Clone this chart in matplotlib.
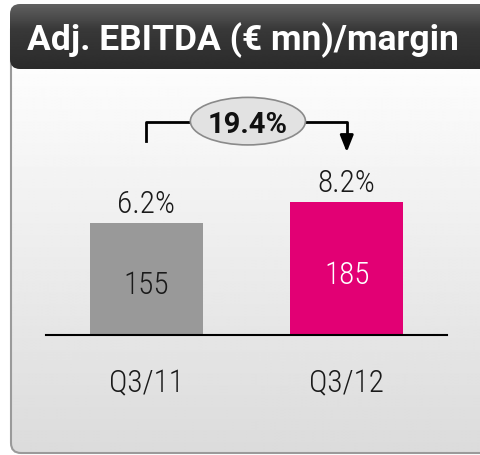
import numpy as np
import matplotlib
matplotlib.use('Agg')
import matplotlib.pyplot as plt
from matplotlib.patches import FancyBboxPatch, Ellipse

plt.rcParams['font.family'] = ['Roboto Condensed', 'PT Sans Narrow', 'Liberation Sans Narrow',
                               'Archivo Narrow', 'Liberation Sans', 'DejaVu Sans']
wide_font = ['Roboto', 'Liberation Sans', 'DejaVu Sans']

# Data
categories = ['Q3/11', 'Q3/12']
ebitda = [155, 185]
margins = ['6.2%', '8.2%']
growth = '19.4%'
colors = ['#999999', '#E20074']
value_colors = ['#1a1a1a', 'white']

W, H = 481, 456
fig = plt.figure(figsize=(W / 100, H / 100), dpi=100)

# Background panel (pixel coordinates)
bg = fig.add_axes([0, 0, 1, 1])
bg.set_xlim(0, W)
bg.set_ylim(H, 0)
bg.axis('off')

body = FancyBboxPatch((11, 20), 490, 434, boxstyle='round,pad=0,rounding_size=10',
                      facecolor='none', edgecolor='#9a9a9a', lw=1.5, zorder=2)
bg.add_patch(body)
grad = np.linspace(0.99, 0.86, 256).reshape(-1, 1)
im = bg.imshow(grad, cmap='gray', vmin=0, vmax=1, extent=(11, 501, 454, 70),
               aspect='auto', zorder=1)
im.set_clip_path(body)

header = FancyBboxPatch((10, 5), 490, 65, boxstyle='round,pad=0,rounding_size=10',
                        facecolor='none', edgecolor='none', zorder=3)
bg.add_patch(header)
hgrad = np.concatenate([np.linspace(0.38, 0.22, 40), np.linspace(0.22, 0.17, 60)]).reshape(-1, 1)
him = bg.imshow(hgrad, cmap='gray', vmin=0, vmax=1, extent=(10, 500, 70, 5),
                aspect='auto', zorder=3)
him.set_clip_path(header)
bg.text(27, 40, 'Adj. EBITDA (€ mn)/margin', color='white', fontsize=25.5,
        fontweight='bold', va='center', ha='left', zorder=4, family=wide_font)

# Bar chart axes: baseline at pixel 336, 0.72 px per unit
base_px, top_px = 336, 80
scale = 0.72
ax = fig.add_axes([46 / W, (H - base_px) / H, 401 / W, (base_px - top_px) / H])
ax.set_facecolor('none')
ax.set_xlim(-0.5, 1.5)
ax.set_ylim(0, (base_px - top_px) / scale)
x = np.arange(len(categories))
ax.bar(x, ebitda, width=0.565, color=colors, zorder=2)
for spine in ['top', 'right', 'left']:
    ax.spines[spine].set_visible(False)
ax.spines['bottom'].set_linewidth(1.5)
ax.set_yticks([])
ax.set_xticks(x)
ax.set_xticklabels(categories, fontsize=22.5, color='#1a1a1a', fontweight='light')
ax.tick_params(axis='x', length=0, pad=24)

for xi, v, m, vc in zip(x, ebitda, margins, value_colors):
    ax.text(xi, v * 0.48, str(v), ha='center', va='center_baseline', fontsize=22.5,
            color=vc, fontweight='light')
    ax.text(xi, v + 15.5, m, ha='center', va='baseline', fontsize=22.5,
            color='#1a1a1a', fontweight='light')

# Growth bracket with arrow
y_line = 296
ax.plot([0, 0, 0.25], [269, y_line, y_line], color='black', lw=2, clip_on=False)
ax.plot([0.78, 1.0, 1.0], [y_line, y_line, 272], color='black', lw=2, clip_on=False)
ax.annotate('', xy=(1.0, 254), xytext=(1.0, 275),
            arrowprops=dict(arrowstyle='-|>,head_width=0.4,head_length=1.0',
                            color='black', lw=2, shrinkA=0, shrinkB=0),
            annotation_clip=False)
ell = Ellipse((0.507, 297), 0.574, 66, facecolor='#e2e2e2', edgecolor='#8a8a8a',
              lw=1.2, zorder=5, clip_on=False)
ax.add_patch(ell)
ax.text(0.507, 297, growth, ha='center', va='center_baseline', fontsize=21,
        fontweight='bold', color='#111111', zorder=6, family=wide_font)

fig.savefig('out.png', dpi=100)
